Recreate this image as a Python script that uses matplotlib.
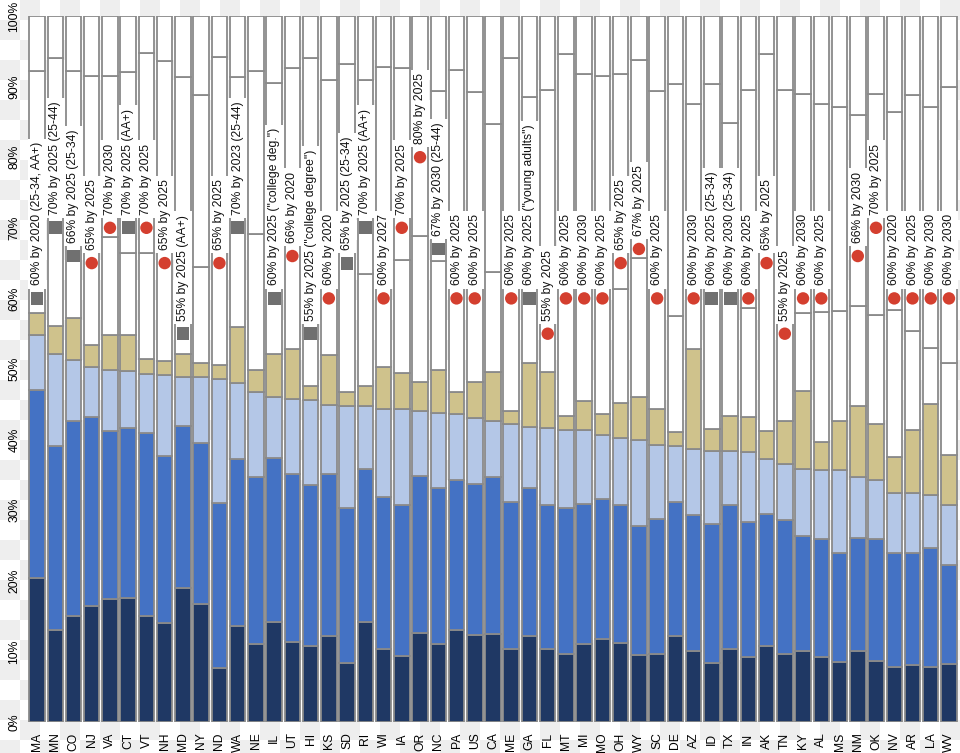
import numpy as np
import matplotlib
matplotlib.use("Agg")
import matplotlib.pyplot as plt

plt.rcParams['font.family'] = ['Liberation Sans', 'DejaVu Sans']

states = ["MA","MN","CO","NJ","VA","CT","VT","NH","MD","NY","ND","WA","NE","IL","UT","HI","KS","SD",
          "RI","WI","IA","OR","NC","PA","US","CA","ME","GA","FL","MT","MI","MO","OH","WY","SC","DE",
          "AZ","ID","TX","IN","AK","TN","KY","AL","MS","NM","OK","NV","AR","LA","WV"]

# cumulative tops of each stacked segment (percent)
top_dark  = [20.4,13.0,15.0,16.4,17.4,17.6,15.0,14.0,19.0,16.7,7.6,13.6,11.0,14.2,11.4,10.7,12.2,8.3,
             14.1,10.3,9.4,12.6,11.1,13.0,12.3,12.4,10.3,12.2,10.4,9.6,11.1,11.7,11.2,9.5,9.7,12.2,
             10.1,8.4,10.3,9.2,10.8,9.7,10.1,9.2,8.5,10.1,8.6,7.8,8.1,7.8,8.2]
top_mid   = [47.0,39.1,42.6,43.2,41.2,41.6,40.9,37.7,41.9,39.5,31.0,37.3,34.7,37.4,35.1,33.6,35.1,30.3,
             35.8,31.8,30.7,34.8,33.2,34.3,33.7,34.7,31.1,33.2,30.7,30.3,30.9,31.6,30.7,27.7,28.7,31.1,
             29.3,28.0,30.8,28.3,29.4,28.6,26.3,25.9,24.0,26.0,25.9,24.0,24.0,24.7,22.3]
top_light = [54.8,52.1,51.3,50.3,49.9,49.7,49.3,49.1,48.9,48.9,48.6,48.0,46.8,46.1,45.7,45.6,44.9,44.8,
             44.7,44.3,44.3,44.1,43.8,43.6,43.0,42.7,42.2,41.8,41.6,41.4,41.4,40.7,40.2,40.0,39.3,39.1,
             38.7,38.4,38.4,38.3,37.2,36.6,35.9,35.7,35.7,34.7,34.3,32.5,32.4,32.1,30.8]
top_tan   = [57.9,56.1,57.2,53.4,54.8,54.8,51.4,51.1,52.1,50.8,50.5,55.9,49.8,52.1,52.8,47.6,52.0,46.7,
             47.6,50.3,49.4,48.2,49.8,46.7,48.2,49.6,44.1,50.8,49.6,43.4,45.4,43.6,45.2,46.0,44.3,41.1,
             52.8,41.5,43.4,43.2,41.2,42.6,46.9,39.7,42.6,44.8,42.2,37.5,41.4,45.1,37.8]
# white segments (None = no visible division)
top_low   = [None,None,None,None,68.7,66.5,66.4,None,None,64.5,None,None,69.1,None,None,None,None,None,
             63.5,None,65.4,68.8,65.3,None,None,63.7,None,None,None,None,None,None,61.3,65.7,None,57.5,
             None,None,None,58.6,None,None,57.9,58.1,58.2,58.9,57.6,58.4,55.4,53.0,50.9]
top_high  = [92.2,94.0,92.2,91.5,91.5,92.1,94.8,93.6,91.3,88.8,94.2,91.4,92.2,90.5,92.6,94.0,91.0,93.2,
             91.0,92.8,92.7,100.0,89.4,92.4,89.3,84.7,94.1,88.5,89.5,94.6,91.8,91.5,91.8,93.7,89.4,90.4,
             87.5,90.4,84.8,89.5,94.6,89.5,88.9,87.6,87.1,86.0,89.0,86.4,88.8,87.1,89.9]

# goals: value, marker kind ('c' = red circle, 's' = grey square), label
goal_val  = [60,70,66,65,70,70,70,65,55,None,65,70,None,60,66,55,60,65,
             70,60,70,80,67,60,60,None,60,60,55,60,60,60,65,67,60,None,
             60,60,60,60,65,55,60,60,None,66,70,60,60,60,60]
goal_kind = ['s','s','s','c','c','s','c','c','s',None,'c','s',None,'s','c','s','c','s',
             's','c','c','c','s','c','c',None,'c','s','c','c','c','c','c','c','c',None,
             'c','s','s','c','c','c','c','c',None,'c','c','c','c','c','c']
goal_text = ["60% by 2020 (25-34, AA+)","70% by 2025 (25-44)","66% by 2025 (25-34)","65% by 2025",
             "70% by 2030","70% by 2025 (AA+)","70% by 2025","65% by 2025","55% by 2025 (AA+)",None,
             "65% by 2025","70% by 2023 (25-44)",None,'60% by 2025 ("college deg.")',"66% by 2020",
             '55% by 2025 ("college degree")',"60% by 2020","65% by 2025 (25-34)","70% by 2025 (AA+)",
             "60% by 2027","70% by 2025","80% by 2025","67% by 2030 (25-44)","60% by 2025","60% by 2025",
             None,"60% by 2025",'60% by 2025 ("young adults")',"55% by 2025","60% by 2025","60% by 2030",
             "60% by 2025","65% by 2025","67% by 2025","60% by 2025",None,"60% by 2030",
             "60% by 2025 (25-34)","60% by 2030 (25-34)","60% by 2025","65% by 2025","55% by 2025",
             "60% by 2030","60% by 2025",None,"66% by 2030","70% by 2025","60% by 2020","60% by 2025",
             "60% by 2030","60% by 2030"]

W, H = 960, 753
fig = plt.figure(figsize=(W/100, H/100), dpi=100)
fig.patch.set_facecolor('white')

# checkerboard background
bg = fig.add_axes([0, 0, 1, 1], zorder=0)
rows, cols = 38, 48
chk = (np.add.outer(np.arange(rows), np.arange(cols)) % 2).astype(float)
bg.imshow(chk, cmap=matplotlib.colors.ListedColormap(['#ffffff', '#eeeeee']),
          extent=(0, cols*20, rows*20, 0), interpolation='nearest', aspect='auto')
bg.set_xlim(0, W); bg.set_ylim(H, 0); bg.axis('off')

left = 27.9/W; right = 958.1/W
bottom = (H-722)/H; top = (H-16)/H
ax = fig.add_axes([left, bottom, right-left, top-bottom], zorder=1)
ax.set_facecolor('none')

n = len(states)
x = np.arange(n)
td = np.array(top_dark); tm = np.array(top_mid); tl = np.array(top_light); tt = np.array(top_tan)
tlow = np.array([t if t is not None else tt[i] for i, t in enumerate(top_low)])
th = np.array(top_high)

bw = 0.85
ec = '#8a8a8a'
lw = 1.3
segs = [(np.zeros(n), td, '#1f3864'),
        (td, tm, '#4472c4'),
        (tm, tl, '#b4c7e7'),
        (tl, tt, '#cfc28c'),
        (tt, tlow, '#ffffff'),
        (tlow, th, '#ffffff'),
        (th, np.full(n, 100.0), '#ffffff')]
for b0, b1, c in segs:
    ax.bar(x, b1 - b0, bottom=b0, width=bw, color=c, edgecolor=ec, linewidth=lw, zorder=2)

for i in range(n):
    v = goal_val[i]
    if v is None:
        continue
    if goal_kind[i] == 'c':
        ax.scatter([i], [v], s=80, color='#d43f2f', edgecolors='none', zorder=4)
    else:
        ax.scatter([i], [v], s=85, marker='s', color='#707070', edgecolors='none', zorder=4)
    ax.annotate(goal_text[i], xy=(i, v), xytext=(0, 9.5), textcoords='offset points',
                rotation=90, ha='center', va='bottom', fontsize=8.7, color='#111111', zorder=5,
                bbox=dict(boxstyle='square,pad=0.28', fc='white', ec='none'))

ax.set_xlim(-0.5, n - 0.5)
ax.set_ylim(0, 100)
ax.set_xticks(x)
ax.set_xticklabels(states, rotation=90, fontsize=8.7, va='top', ha='center')
ax.set_yticks(np.arange(0, 101, 10))
ax.set_yticklabels([f"{v}%" for v in range(0, 101, 10)], rotation=90, fontsize=8.7,
                   va='center', ha='right')
ax.tick_params(axis='x', length=0, pad=7.5)
ax.tick_params(axis='y', length=0, pad=5.5)
for s in ax.spines.values():
    s.set_visible(False)

fig.savefig('out.png', dpi=100)
